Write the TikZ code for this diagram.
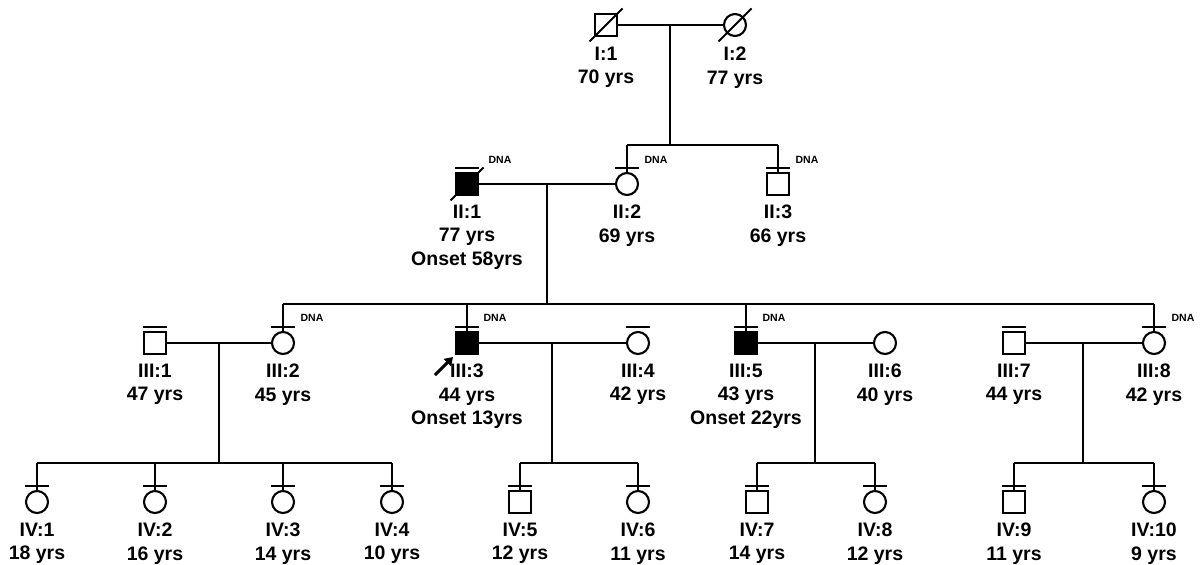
\documentclass[tikz,border=0pt]{standalone}
\usepackage{fontspec}
\setmainfont{Liberation Sans}
\usetikzlibrary{arrows.meta}
\begin{document}
\begin{tikzpicture}[x=1pt,y=-1pt,line width=2.1pt,
  male/.style={draw,rectangle,minimum size=22pt,inner sep=0pt,fill=white},
  female/.style={draw,circle,minimum size=22pt,inner sep=0pt,fill=white},
  aff/.style={fill=black},
  lbl/.style={font=\bfseries\fontsize{19.5}{23.5}\selectfont,align=center,anchor=north,inner sep=0pt},
  dna/.style={font=\bfseries\fontsize{10.5}{12}\selectfont,inner sep=0pt},
  tick/.style={line width=2.1pt},
  slash/.style={line width=2pt}
]
\useasboundingbox (0,0) rectangle (1203,565);

% ---------- Generation I ----------
\node[male]   (I1) at (606,25) {};
\node[female] (I2) at (735,25) {};
% ---------- Generation II ----------
\node[male,aff] (II1) at (467,184) {};
\node[female]   (II2) at (627,184) {};
\node[male]     (II3) at (778,184) {};
% ---------- Generation III ----------
\node[male]     (III1) at (155,343) {};
\node[female]   (III2) at (283,343) {};
\node[male,aff] (III3) at (467,343) {};
\node[female]   (III4) at (638,343) {};
\node[male,aff] (III5) at (746,343) {};
\node[female]   (III6) at (885,343) {};
\node[male]     (III7) at (1014,343) {};
\node[female]   (III8) at (1154,343) {};
% ---------- Generation IV ----------
\node[female] (IV1)  at (37,502) {};
\node[female] (IV2)  at (155,502) {};
\node[female] (IV3)  at (283,502) {};
\node[female] (IV4)  at (392,502) {};
\node[male]   (IV5)  at (520,502) {};
\node[female] (IV6)  at (638,502) {};
\node[male]   (IV7)  at (757,502) {};
\node[female] (IV8)  at (875,502) {};
\node[male]   (IV9)  at (1014,502) {};
\node[female] (IV10) at (1154,502) {};

% ---------- mating / descent coordinates ----------
\coordinate (m1) at (670,25);   \coordinate (s2) at (670,145);
\coordinate (m2) at (547,184);  \coordinate (s3) at (547,304);
\coordinate (m3) at (219,343);  \coordinate (s4a) at (219,463);
\coordinate (m4) at (552,343);  \coordinate (s4b) at (552,463);
\coordinate (m5) at (815,343);  \coordinate (s4c) at (815,463);
\coordinate (m6) at (1083,343); \coordinate (s4d) at (1083,463);

% Gen I
\draw (I1.east) -- (I2.west);
\draw (m1) -- (s2);
\draw (II2.north |- s2) -- (II3.north |- s2);
\draw (II2.north |- s2) -- (II2.north);
\draw (II3.north |- s2) -- (II3.north);
% Gen II
\draw (II1.east) -- (II2.west);
\draw (m2) -- (s3);
\draw (III2.north |- s3) -- (III8.north |- s3);
\foreach \n in {III2,III3,III5,III8} \draw (\n.north |- s3) -- (\n.north);
% Gen III couples
\draw (III1.east) -- (III2.west);
\draw (III3.east) -- (III4.west);
\draw (III5.east) -- (III6.west);
\draw (III7.east) -- (III8.west);
\draw (m3) -- (s4a); \draw (m4) -- (s4b); \draw (m5) -- (s4c); \draw (m6) -- (s4d);
\draw (IV1.north |- s4a) -- (IV4.north |- s4a);
\draw (IV5.north |- s4b) -- (IV6.north |- s4b);
\draw (IV7.north |- s4c) -- (IV8.north |- s4c);
\draw (IV9.north |- s4d) -- (IV10.north |- s4d);
\foreach \n/\s in {IV1/s4a,IV2/s4a,IV3/s4a,IV4/s4a,IV5/s4b,IV6/s4b,IV7/s4c,IV8/s4c,IV9/s4d,IV10/s4d}
  \draw (\n.north |- \s) -- (\n.north);

% ---------- bars above symbols ----------
\foreach \n in {II1,II2,II3,III1,III2,III3,III4,III5,III7,III8,IV1,IV2,IV3,IV4,IV5,IV6,IV7,IV8,IV9,IV10}
  \draw[tick] ([xshift=-12pt,yshift=4pt]\n.north) -- ([xshift=12pt,yshift=4pt]\n.north);

% ---------- deceased slashes ----------
\foreach \n in {I1,I2,II1}
  \draw[slash] ([shift={(-16.5,16.5)}]\n.center) -- ([shift={(16.5,-16.5)}]\n.center);

% ---------- DNA marks ----------
\node[dna] (dII1)  at (500,160) {DNA};
\node[dna] (dII2)  at (656,160) {DNA};
\node[dna] (dII3)  at (807,160) {DNA};
\node[dna] (dIII2) at (312,318) {DNA};
\node[dna] (dIII3) at (495,318) {DNA};
\node[dna] (dIII5) at (774,318) {DNA};
\node[dna] (dIII8) at (1183,318) {DNA};

% ---------- labels ----------
\node[lbl] (lI1) at (606,46) {I:1\\70 yrs};
\node[lbl] (lI2) at (735,46) {I:2\\77 yrs};
\node[lbl] (lII1) at (467,204) {II:1\\77 yrs\\Onset 58yrs};
\node[lbl] (lII2) at (627,204) {II:2\\69 yrs};
\node[lbl] (lII3) at (778,204) {II:3\\66 yrs};
\node[lbl] (lIII1) at (155,363) {III:1\\47 yrs};
\node[lbl] (lIII2) at (283,363) {III:2\\45 yrs};
\node[lbl] (lIII3) at (467,363) {III:3\\44 yrs\\Onset 13yrs};
\node[lbl] (lIII4) at (638,363) {III:4\\42 yrs};
\node[lbl] (lIII5) at (746,363) {III:5\\43 yrs\\Onset 22yrs};
\node[lbl] (lIII6) at (885,363) {III:6\\40 yrs};
\node[lbl] (lIII7) at (1014,363) {III:7\\44 yrs};
\node[lbl] (lIII8) at (1154,363) {III:8\\42 yrs};
\node[lbl] (lIV1) at (37,522) {IV:1\\18 yrs};
\node[lbl] (lIV2) at (155,522) {IV:2\\16 yrs};
\node[lbl] (lIV3) at (283,522) {IV:3\\14 yrs};
\node[lbl] (lIV4) at (392,522) {IV:4\\10 yrs};
\node[lbl] (lIV5) at (520,522) {IV:5\\12 yrs};
\node[lbl] (lIV6) at (638,522) {IV:6\\11 yrs};
\node[lbl] (lIV7) at (757,522) {IV:7\\14 yrs};
\node[lbl] (lIV8) at (875,522) {IV:8\\12 yrs};
\node[lbl] (lIV9) at (1014,522) {IV:9\\11 yrs};
\node[lbl] (lIV10) at (1154,522) {IV:10\\9 yrs};

% ---------- proband arrow ----------
\coordinate (pa) at (435,375);
\coordinate (pb) at (453,357);
\draw[line width=3pt,-{Triangle[length=8pt,width=10pt]}] (pa) -- (pb);
\end{tikzpicture}
\end{document}
